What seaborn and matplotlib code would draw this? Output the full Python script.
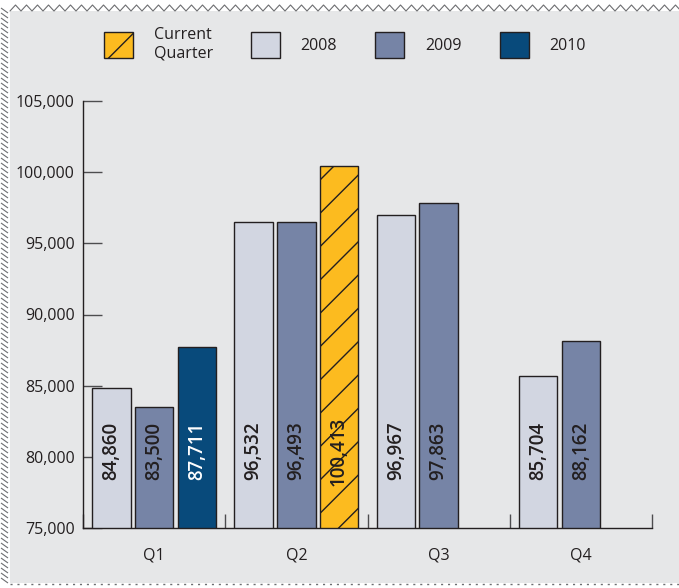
import numpy as np
import pandas as pd
import seaborn as sns
import matplotlib.pyplot as plt
from matplotlib.patches import Patch, Rectangle
from matplotlib.lines import Line2D
from matplotlib.collections import LineCollection
from matplotlib.ticker import FuncFormatter, FixedLocator

# chart data
quarters = ["Q1", "Q2", "Q3", "Q4"]
years = ["2008", "2009", "2010"]
sales_2008 = [84860, 96532, 96967, 85704]
sales_2009 = [83500, 96493, 97863, 88162]
sales_2010 = [87711, 100413]          # only Q1, Q2 reported so far
current_quarter = ("Q2", "2010")

rows = []
for q, v in zip(quarters, sales_2008):
    rows.append((q, "2008", v))
for q, v in zip(quarters, sales_2009):
    rows.append((q, "2009", v))
for q, v in zip(quarters, sales_2010):
    rows.append((q, "2010", v))
df = pd.DataFrame(rows, columns=["quarter", "year", "value"])

colors = {"2008": "#d2d6e1", "2009": "#7684a6", "2010": "#084a7b"}
current_color = "#fcbb1f"
ink = "#231f20"
bg = "#e6e7e8"

sns.set_style("white")
plt.rcParams["font.family"] = ["Open Sans", "DejaVu Sans"]
plt.rcParams["hatch.linewidth"] = 1.0
plt.rcParams["hatch.color"] = ink

fig = plt.figure(figsize=(6.79, 5.88), dpi=100, facecolor="white")
# grey panel with the decorative borders
fig.add_artist(Rectangle((10 / 679, 5 / 588), 1, 1 - 16 / 588,
                         transform=fig.transFigure, facecolor=bg,
                         edgecolor="none", zorder=-10))
zx = np.arange(10, 685, 5.5)
zy = np.where(np.arange(len(zx)) % 2 == 0, 577, 583)
fig.add_artist(Line2D(zx / 679, zy / 588, transform=fig.transFigure,
                      color="#6d6e71", lw=0.8))
segs = [[(1 / 679, (580 - k) / 588), (8 / 679, (575 - k) / 588)]
        for k in np.arange(0, 575, 5)]
fig.add_artist(LineCollection(segs, transform=fig.transFigure,
                              colors="#6d6e71", linewidths=0.8))
fig.add_artist(Line2D([10 / 679, 1], [4 / 588, 4 / 588],
                      transform=fig.transFigure, color="#6d6e71",
                      lw=1.0, ls=(0, (1.5, 3.5))))

ax = fig.add_axes([83 / 679, 60 / 588, 569 / 679, 427 / 588])
ax.set_facecolor(bg)

sns.barplot(data=df, x="quarter", y="value", hue="year",
            order=quarters, hue_order=years, palette=colors,
            saturation=1, width=0.9, gap=0.1, edgecolor=ink, linewidth=1,
            legend=False, ax=ax)

ax.set_ylim(75000, 105000)
ax.set_xlim(-0.5, 3.5)

# restyle the current quarter bar and label every bar
for year, cont in zip(years, ax.containers):
    for bar, val in zip(cont.patches, cont.datavalues):
        if np.isnan(val):
            continue
        xc = bar.get_x() + bar.get_width() / 2
        qi = int(round(xc))
        is_current = (quarters[qi], year) == current_quarter
        if is_current:
            bar.set_facecolor(current_color)
            bar.set_hatch("/")
        txt_color = "white" if (year == "2010" and not is_current) else ink
        ax.text(xc, 80400, f"{int(val):,}", rotation=90, ha="center",
                va="center", fontsize=13.5, fontweight="semibold",
                color=txt_color)

ax.yaxis.set_major_locator(FixedLocator(np.arange(75000, 105001, 5000)))
ax.yaxis.set_major_formatter(FuncFormatter(lambda v, p: f"{int(v):,}"))
ax.tick_params(axis="y", left=True, direction="in", length=14, width=1,
               color="#4d4d4f", labelsize=11.5, labelcolor=ink, pad=6)
ax.tick_params(axis="x", which="major", bottom=True, length=0,
               labelsize=11.5, labelcolor=ink, pad=14)
ax.xaxis.set_minor_locator(FixedLocator([-0.5, 0.5, 1.5, 2.5, 3.5]))
ax.tick_params(axis="x", which="minor", bottom=True, direction="in",
               length=10, width=1, color="#4d4d4f")
ax.set_xlabel("")
ax.set_ylabel("")
for side in ["top", "right"]:
    ax.spines[side].set_visible(False)
for side in ["left", "bottom"]:
    ax.spines[side].set_color(ink)
    ax.spines[side].set_linewidth(1)

handles = [Patch(facecolor=current_color, edgecolor=ink, hatch="/",
                 label="Current\nQuarter")]
handles += [Patch(facecolor=colors[y], edgecolor=ink, label=y) for y in years]
fig.legend(handles=handles, loc="center", bbox_to_anchor=(0.508, 0.925),
           ncol=4, frameon=False, fontsize=11.5, handlelength=1.8,
           handleheight=2.1, handletextpad=1.3, columnspacing=2.4,
           labelcolor=ink)

plt.savefig("out.png", dpi=100, facecolor="white")
